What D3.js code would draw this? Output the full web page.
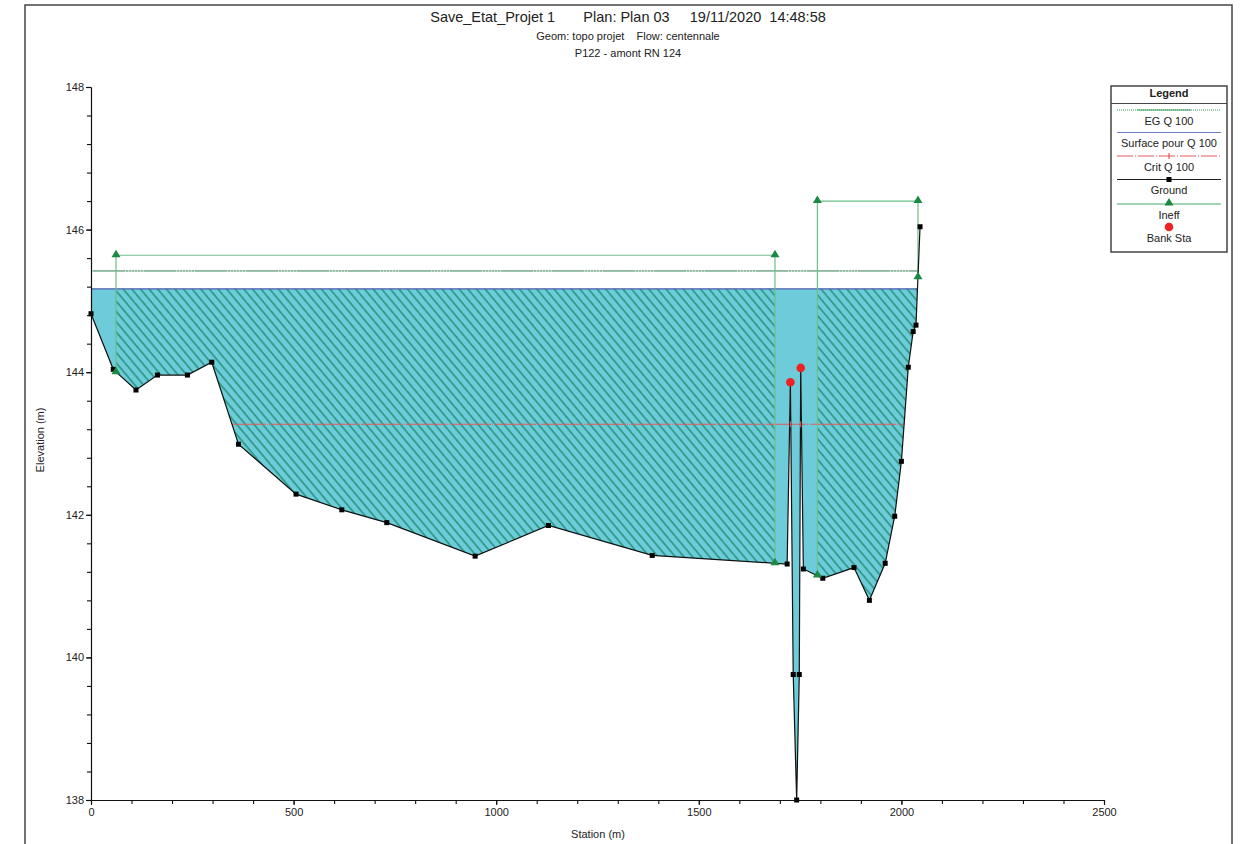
<!DOCTYPE html>
<html>
<head>
<meta charset="utf-8">
<script src="https://cdn.jsdelivr.net/npm/d3@7"></script>
<style>
  html, body { margin: 0; padding: 0; background: #fff; }
  svg { display: block; font-family: "Liberation Sans", Arial, sans-serif; }
</style>
</head>
<body>
<svg id="chart" width="1246" height="844"></svg>
<script>
// Cross section P122 - ground survey points (station m, elevation m)
const groundStations = [0, 55, 111, 164, 238, 298, 364, 506, 619, 730, 948, 1129, 1385, 1718, 1726, 1733, 1741.5, 1748, 1751.5, 1758, 1806, 1883, 1921, 1960, 1983.5, 2000, 2017, 2029, 2036, 2046];
const groundElevations = [144.82, 144.04, 143.75, 143.96, 143.96, 144.14, 142.99, 142.29, 142.07, 141.89, 141.42, 141.85, 141.43, 141.31, 143.86, 139.76, 138.0, 139.76, 144.06, 141.24, 141.11, 141.26, 140.80, 141.32, 141.98, 142.75, 144.07, 144.57, 144.66, 146.04];

// Water levels for Q 100
const wsElevation = 145.17;    // Surface pour Q 100
const egElevation = 145.42;    // EG Q 100
const critElevation = 143.27;  // Crit Q 100

// Ineffective flow areas: left / right station, top elevation, ground at each side
const ineffStart = [61.7, 1792.6];
const ineffEnd = [1688, 2040.9];
const ineffElevation = [145.64, 146.40];
const ineffGroundStart = [144.0, 141.15];
const ineffGroundEnd = [141.32, 145.33];

// Bank stations
const bankStations = [1726, 1751.5];
const bankElevations = [143.86, 144.06];

// Axis ticks
const xMajorTicks = [0, 500, 1000, 1500, 2000, 2500];
const xMinorTicks = d3.range(0, 2501, 100);
const yMajorTicks = [138, 140, 142, 144, 146, 148];
const yMinorTicks = d3.range(0, 26).map(i => 138 + i * 0.4);

const ground = groundStations.map((s, i) => ({ s, e: groundElevations[i] }));
const banks = bankStations.map((s, i) => ({ s, e: bankElevations[i] }));

const svg = d3.select("#chart");
const x = d3.scaleLinear().domain([0, 2500]).range([91, 1104]);
const y = d3.scaleLinear().domain([138, 148]).range([800, 87]);

// outer frame
svg.append("rect").attr("x", 25).attr("y", 5).attr("width", 1207).attr("height", 860)
  .attr("fill", "none").attr("stroke", "#444").attr("stroke-width", 1.5);

// titles
svg.append("text").attr("x", 628).attr("y", 22).attr("text-anchor", "middle")
  .attr("font-size", 14.5).attr("fill", "#222").style("white-space", "pre")
  .text("Save_Etat_Projet 1       Plan: Plan 03     19/11/2020  14:48:58");
svg.append("text").attr("x", 628).attr("y", 40).attr("text-anchor", "middle")
  .attr("font-size", 11).attr("fill", "#222").style("white-space", "pre")
  .text("Geom: topo projet    Flow: centennale");
svg.append("text").attr("x", 628).attr("y", 57).attr("text-anchor", "middle")
  .attr("font-size", 11).attr("fill", "#222")
  .text("P122 - amont RN 124");

const defs = svg.append("defs");
// region above the ground line
const clipPoly = [{ s: 0, e: 148 }].concat(ground, [{ s: groundStations[groundStations.length - 1], e: 148 }]);
defs.append("clipPath").attr("id", "aboveGround")
  .append("path")
  .attr("d", d3.line().x(d => x(d.s)).y(d => y(d.e))(clipPoly) + "Z");

// diagonal hatch for ineffective areas
const hatch = defs.append("pattern").attr("id", "hatch")
  .attr("patternUnits", "userSpaceOnUse").attr("width", 6.6).attr("height", 20)
  .attr("patternTransform", "rotate(-40)");
hatch.append("line").attr("x1", 1).attr("y1", 0).attr("x2", 1).attr("y2", 20)
  .attr("stroke", "#077d52").attr("stroke-width", 1.1);

const lastS = groundStations[groundStations.length - 1];
const plot = svg.append("g");
const clipped = plot.append("g").attr("clip-path", "url(#aboveGround)");

// water
clipped.append("rect")
  .attr("x", x(0)).attr("width", x(lastS) - x(0))
  .attr("y", y(wsElevation)).attr("height", y(138) - y(wsElevation))
  .attr("fill", "#6ecbd9");

// hatched ineffective parts of the water
clipped.selectAll("rect.ineff").data(ineffStart).join("rect").attr("class", "ineff")
  .attr("x", (d, i) => x(d)).attr("width", (d, i) => x(ineffEnd[i]) - x(d))
  .attr("y", y(wsElevation)).attr("height", y(138) - y(wsElevation))
  .attr("fill", "url(#hatch)");

// ineffective area outlines
const ineffColor = "#6cbf8a";
ineffStart.forEach((s0, i) => {
  const s1 = ineffEnd[i], top = ineffElevation[i];
  plot.append("path")
    .attr("d", d3.line()([[x(s0), y(ineffGroundStart[i])], [x(s0), y(top)], [x(s1), y(top)], [x(s1), y(ineffGroundEnd[i])]]))
    .attr("fill", "none").attr("stroke", ineffColor).attr("stroke-width", 1.2);
});

// EG line (green with dotted sections)
const egDash = [0, 30];
for (let k = 0; k < 7; k++) egDash.push(1, 2);
clipped.append("line").attr("x1", x(0)).attr("x2", x(lastS))
  .attr("y1", y(egElevation)).attr("y2", y(egElevation))
  .attr("stroke", "#2e7d4f").attr("stroke-width", 1);
clipped.append("line").attr("x1", x(0)).attr("x2", x(lastS))
  .attr("y1", y(egElevation)).attr("y2", y(egElevation))
  .attr("stroke", "#ffffff").attr("stroke-width", 1).attr("stroke-dasharray", egDash.join(" "))
  .attr("stroke-dashoffset", -4);

// water surface
clipped.append("line").attr("x1", x(0)).attr("x2", x(lastS))
  .attr("y1", y(wsElevation)).attr("y2", y(wsElevation))
  .attr("stroke", "#4f5fae").attr("stroke-width", 1.2);

// critical depth line
clipped.append("line").attr("x1", x(0)).attr("x2", x(lastS))
  .attr("y1", y(critElevation)).attr("y2", y(critElevation))
  .attr("stroke", "#e35a5a").attr("stroke-width", 1.2)
  .attr("stroke-dasharray", "40 1 1 1 1 1");

// ground line
plot.append("path").datum(ground)
  .attr("d", d3.line().x(d => x(d.s)).y(d => y(d.e)))
  .attr("fill", "none").attr("stroke", "#111").attr("stroke-width", 1.2);

// crit markers at bank stations
plot.selectAll("path.critMark").data(banks).join("path").attr("class", "critMark")
  .attr("d", d => `M${x(d.s)},${y(critElevation) - 3}V${y(critElevation) + 3}`)
  .attr("stroke", "#e35a5a").attr("stroke-width", 1.2);

// ground points
plot.selectAll("rect.pt").data(ground).join("rect").attr("class", "pt")
  .attr("x", d => x(d.s) - 2.5).attr("y", d => y(d.e) - 2.5)
  .attr("width", 5).attr("height", 5).attr("fill", "#000");

// ineffective markers
const triPts = [];
ineffStart.forEach((s0, i) => {
  triPts.push({ s: s0, e: ineffElevation[i] }, { s: ineffEnd[i], e: ineffElevation[i] },
              { s: s0, e: ineffGroundStart[i] }, { s: ineffEnd[i], e: ineffGroundEnd[i] });
});
const tri = (cx, cy) => `M${cx},${cy - 5.5}L${cx + 4.5},${cy + 2}L${cx - 4.5},${cy + 2}Z`;
plot.selectAll("path.tri").data(triPts).join("path").attr("class", "tri")
  .attr("d", d => tri(x(d.s), y(d.e))).attr("fill", "#1a8a42");

// bank stations
plot.selectAll("circle.bank").data(banks).join("circle").attr("class", "bank")
  .attr("cx", d => x(d.s)).attr("cy", d => y(d.e)).attr("r", 4.3).attr("fill", "#ee2222");

// axes
const yAxisMinor = d3.axisLeft(y).tickValues(yMinorTicks).tickSize(4).tickSizeOuter(0).tickFormat("");
const yAxis = d3.axisLeft(y).tickValues(yMajorTicks).tickSize(5).tickSizeOuter(0).tickPadding(2).tickFormat(d3.format("d"));
const xAxisMinor = d3.axisBottom(x).tickValues(xMinorTicks).tickSize(4).tickSizeOuter(0).tickFormat("");
const xAxis = d3.axisBottom(x).tickValues(xMajorTicks).tickSize(5).tickSizeOuter(0).tickPadding(3).tickFormat(d3.format("d"));

function styleAxis(g) {
  g.selectAll("path, line").attr("stroke", "#111").attr("stroke-width", 1.1);
  g.selectAll("text").attr("font-size", 11).attr("fill", "#222")
    .attr("font-family", "Liberation Sans, Arial, sans-serif");
}
svg.append("g").attr("transform", `translate(${x(0)},0)`).call(yAxisMinor).call(styleAxis);
svg.append("g").attr("transform", `translate(${x(0)},0)`).call(yAxis).call(styleAxis);
svg.append("g").attr("transform", `translate(0,${y(138)})`).call(xAxisMinor).call(styleAxis);
svg.append("g").attr("transform", `translate(0,${y(138)})`).call(xAxis).call(styleAxis);

// axis titles
svg.append("text").attr("x", 598).attr("y", 838).attr("text-anchor", "middle")
  .attr("font-size", 11).attr("fill", "#222").text("Station (m)");
svg.append("text").attr("transform", "translate(44,440) rotate(-90)").attr("text-anchor", "middle")
  .attr("font-size", 11).attr("fill", "#222").text("Elevation (m)");

// legend
const lg = svg.append("g");
const lx0 = 1111, lx1 = 1227, lcx = (lx0 + lx1) / 2;
lg.append("rect").attr("x", lx0).attr("y", 86).attr("width", lx1 - lx0).attr("height", 166)
  .attr("fill", "#fff").attr("stroke", "#444").attr("stroke-width", 1.5);
lg.append("text").attr("x", lcx).attr("y", 97).attr("text-anchor", "middle")
  .attr("font-size", 11).attr("font-weight", "bold").attr("fill", "#222").text("Legend");
lg.append("line").attr("x1", lx0).attr("x2", lx1).attr("y1", 103.5).attr("y2", 103.5)
  .attr("stroke", "#444").attr("stroke-width", 1);

const legendNames = ["EG Q 100", "Surface pour Q 100", "Crit Q 100", "Ground", "Ineff", "Bank Sta"];
const legendLineY = [110, 132.5, 156, 179.5, 204, 227];
const ls0 = 1117, ls1 = 1221;
legendNames.forEach((name, i) => {
  const ly = legendLineY[i];
  if (i === 0) {
    lg.append("line").attr("x1", ls0).attr("x2", ls1).attr("y1", ly).attr("y2", ly)
      .attr("stroke", "#3a9a60").attr("stroke-width", 1.2).attr("stroke-dasharray", "1 1");
    lg.append("line").attr("x1", ls0 + 20).attr("x2", ls1 - 30).attr("y1", ly).attr("y2", ly)
      .attr("stroke", "#3a9a60").attr("stroke-width", 1.2);
  } else if (i === 1) {
    lg.append("line").attr("x1", ls0).attr("x2", ls1).attr("y1", ly).attr("y2", ly)
      .attr("stroke", "#6f7fc6").attr("stroke-width", 1.2);
  } else if (i === 2) {
    lg.append("line").attr("x1", ls0).attr("x2", ls1).attr("y1", ly).attr("y2", ly)
      .attr("stroke", "#e35a5a").attr("stroke-width", 1.2).attr("stroke-dasharray", "16 2 1 2");
    lg.append("path").attr("d", `M${lcx},${ly - 3}V${ly + 3}`).attr("stroke", "#e35a5a").attr("stroke-width", 1.2);
  } else if (i === 3) {
    lg.append("line").attr("x1", ls0).attr("x2", ls1).attr("y1", ly).attr("y2", ly)
      .attr("stroke", "#222").attr("stroke-width", 1.2);
    lg.append("rect").attr("x", lcx - 2.5).attr("y", ly - 2.5).attr("width", 5).attr("height", 5).attr("fill", "#000");
  } else if (i === 4) {
    lg.append("line").attr("x1", ls0).attr("x2", ls1).attr("y1", ly).attr("y2", ly)
      .attr("stroke", "#4aaa6e").attr("stroke-width", 1.2);
    lg.append("path").attr("d", tri(lcx, ly - 0.5)).attr("fill", "#1a8a42");
  } else {
    lg.append("circle").attr("cx", lcx).attr("cy", ly).attr("r", 4.3).attr("fill", "#ee2222");
  }
  lg.append("text").attr("x", lcx).attr("y", ly + 14.5).attr("text-anchor", "middle")
    .attr("font-size", 11).attr("fill", "#222").text(name);
});
</script>
</body>
</html>
